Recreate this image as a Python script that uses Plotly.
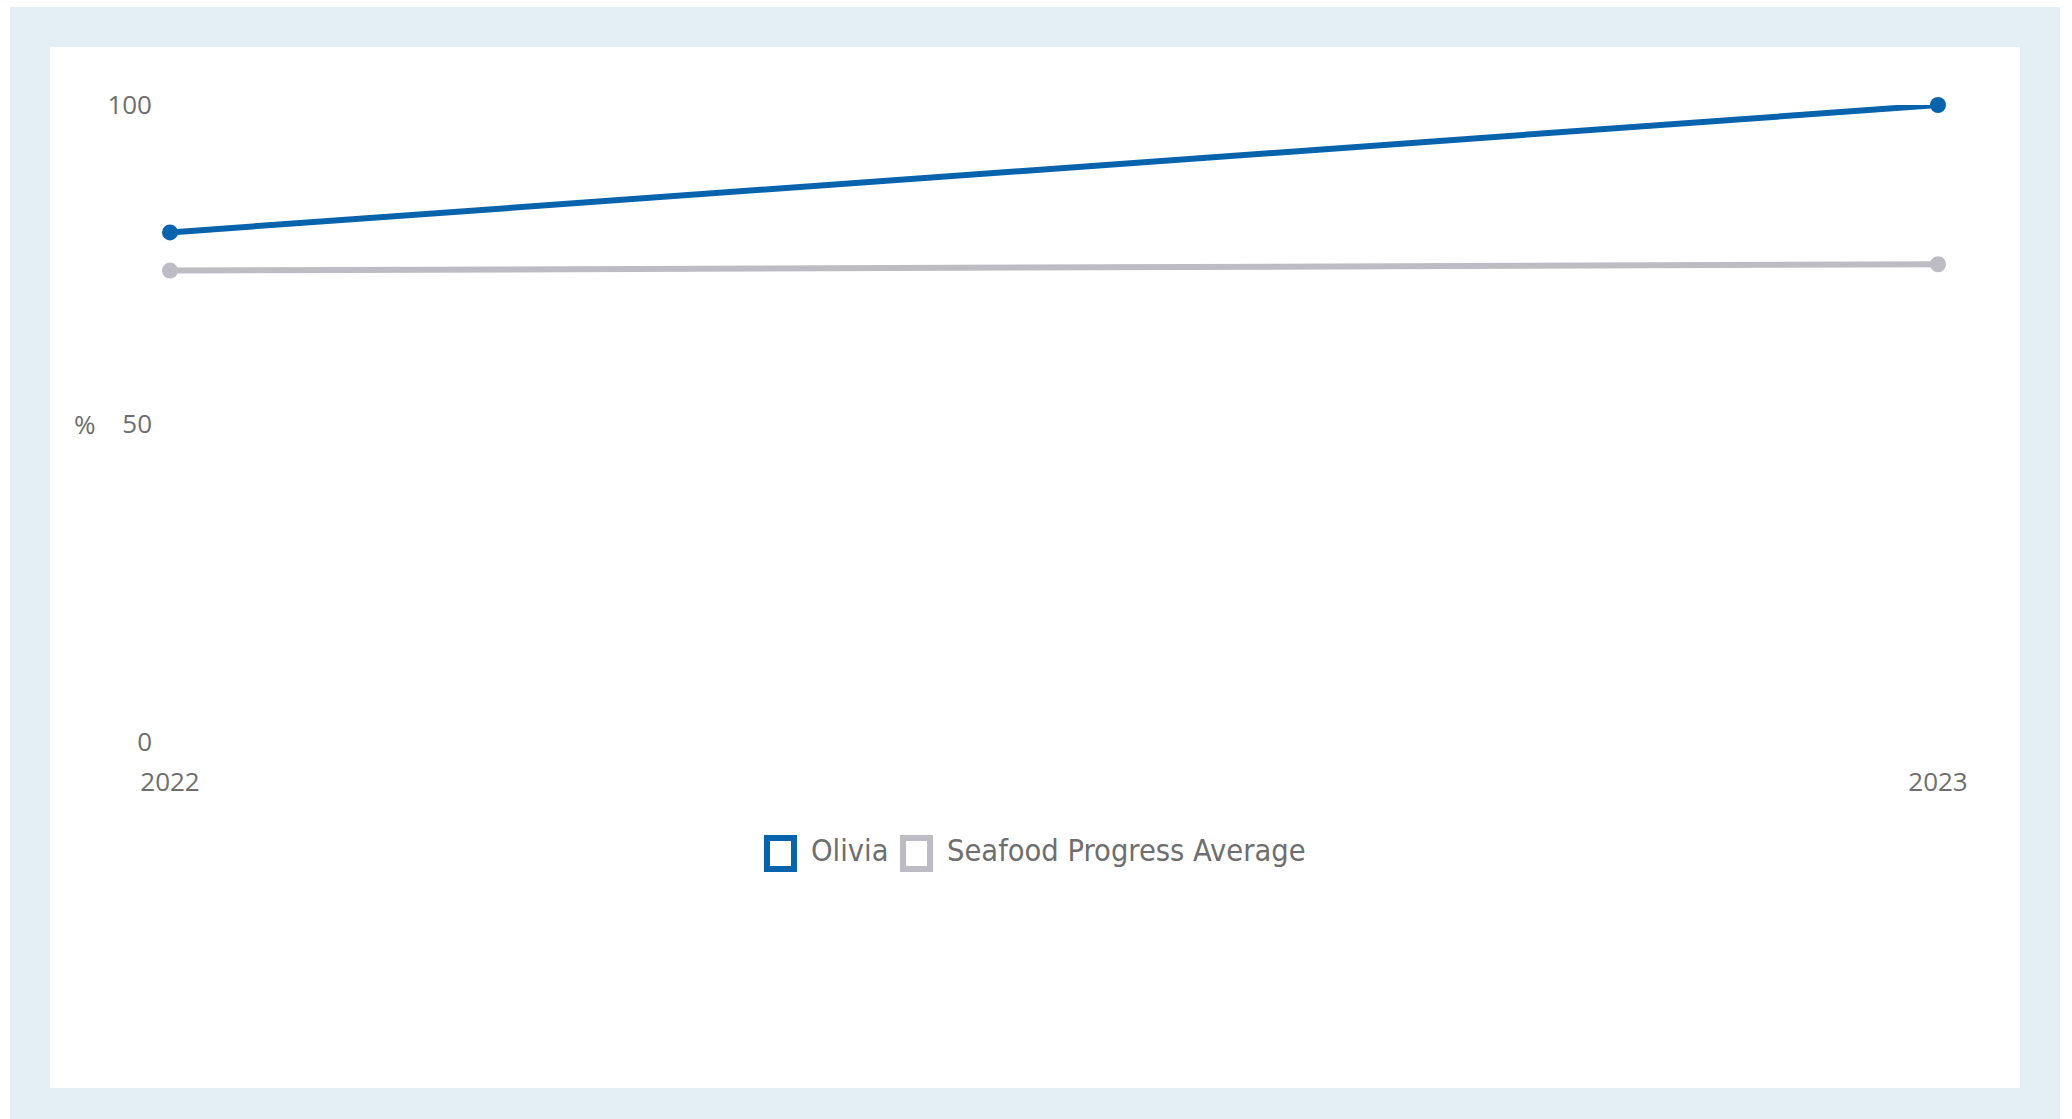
import plotly.graph_objects as go

# Data
years = [2022, 2023]
olivia = [80, 100]
seafood_avg = [74, 75]
series_names = ["Olivia", "Seafood Progress Average"]
y_ticks = [0, 50, 100]

BLUE = "#0863AD"
GREY = "#BDBCC4"
FRAME = "#E3EEF5"
TEXT = "#6E6E6E"

W, H = 2072, 1119
L, R, T, B = 170, 134, 105, 377
PW, PH = W - L - R, H - T - B


def px_x(x):
    return (x - L) / PW


def px_y(y):
    return 1 - (y - T) / PH


fig = go.Figure()
fig.add_trace(go.Scatter(
    x=years, y=olivia, name=series_names[0], mode="lines+markers",
    line=dict(color=BLUE, width=6), marker=dict(color=BLUE, size=16),
    cliponaxis=False, showlegend=False,
))
fig.add_trace(go.Scatter(
    x=years, y=seafood_avg, name=series_names[1], mode="lines+markers",
    line=dict(color=GREY, width=6), marker=dict(color=GREY, size=16),
    cliponaxis=False, showlegend=False,
))

shapes = [
    # light frame around the card
    dict(type="rect", xref="paper", yref="paper", layer="below",
         x0=px_x(10), x1=px_x(2060), y0=px_y(1119 + 5), y1=px_y(7),
         fillcolor=FRAME, line=dict(width=0)),
    dict(type="rect", xref="paper", yref="paper", layer="below",
         x0=px_x(50), x1=px_x(2020), y0=px_y(1088), y1=px_y(47),
         fillcolor="white", line=dict(width=0)),
]

annotations = [
    dict(text="%", xref="paper", yref="y", x=px_x(85), y=50,
         showarrow=False, xanchor="center", yanchor="middle",
         font=dict(size=26, color=TEXT, family="Open Sans")),
]

# legend drawn as open squares with labels
legend_items = [
    (767, 809, BLUE, series_names[0]),
    (903, 945, GREY, series_names[1]),
]
for sx, tx, col, label in legend_items:
    shapes.append(dict(type="rect", xref="paper", yref="paper",
                       x0=px_x(sx), x1=px_x(sx + 27),
                       y0=px_y(869), y1=px_y(838),
                       fillcolor="white", line=dict(color=col, width=6)))
    annotations.append(dict(text=label, xref="paper", yref="paper",
                            x=px_x(tx), y=px_y(850), showarrow=False,
                            xanchor="left", yanchor="middle",
                            font=dict(size=30.5, color=TEXT,
                                      family="Liberation Sans Narrow, DejaVu Sans Condensed")))

fig.update_layout(
    width=W, height=H,
    margin=dict(l=L, r=R, t=T, b=B),
    paper_bgcolor="white", plot_bgcolor="rgba(0,0,0,0)",
    shapes=shapes, annotations=annotations, showlegend=False,
    font=dict(family="Open Sans", color=TEXT, size=26),
)
fig.update_xaxes(
    range=[2022, 2023], tickvals=years, ticktext=[str(y) for y in years],
    showgrid=False, zeroline=False, showline=False, ticks="",
    ticklabelstandoff=22, tickfont=dict(size=26, color=TEXT),
)
fig.update_yaxes(
    range=[0, 100], tickvals=y_ticks,
    showgrid=False, zeroline=False, showline=False, ticks="",
    ticklabelstandoff=17, tickfont=dict(size=26, color=TEXT),
)

fig.write_html("out.html")
